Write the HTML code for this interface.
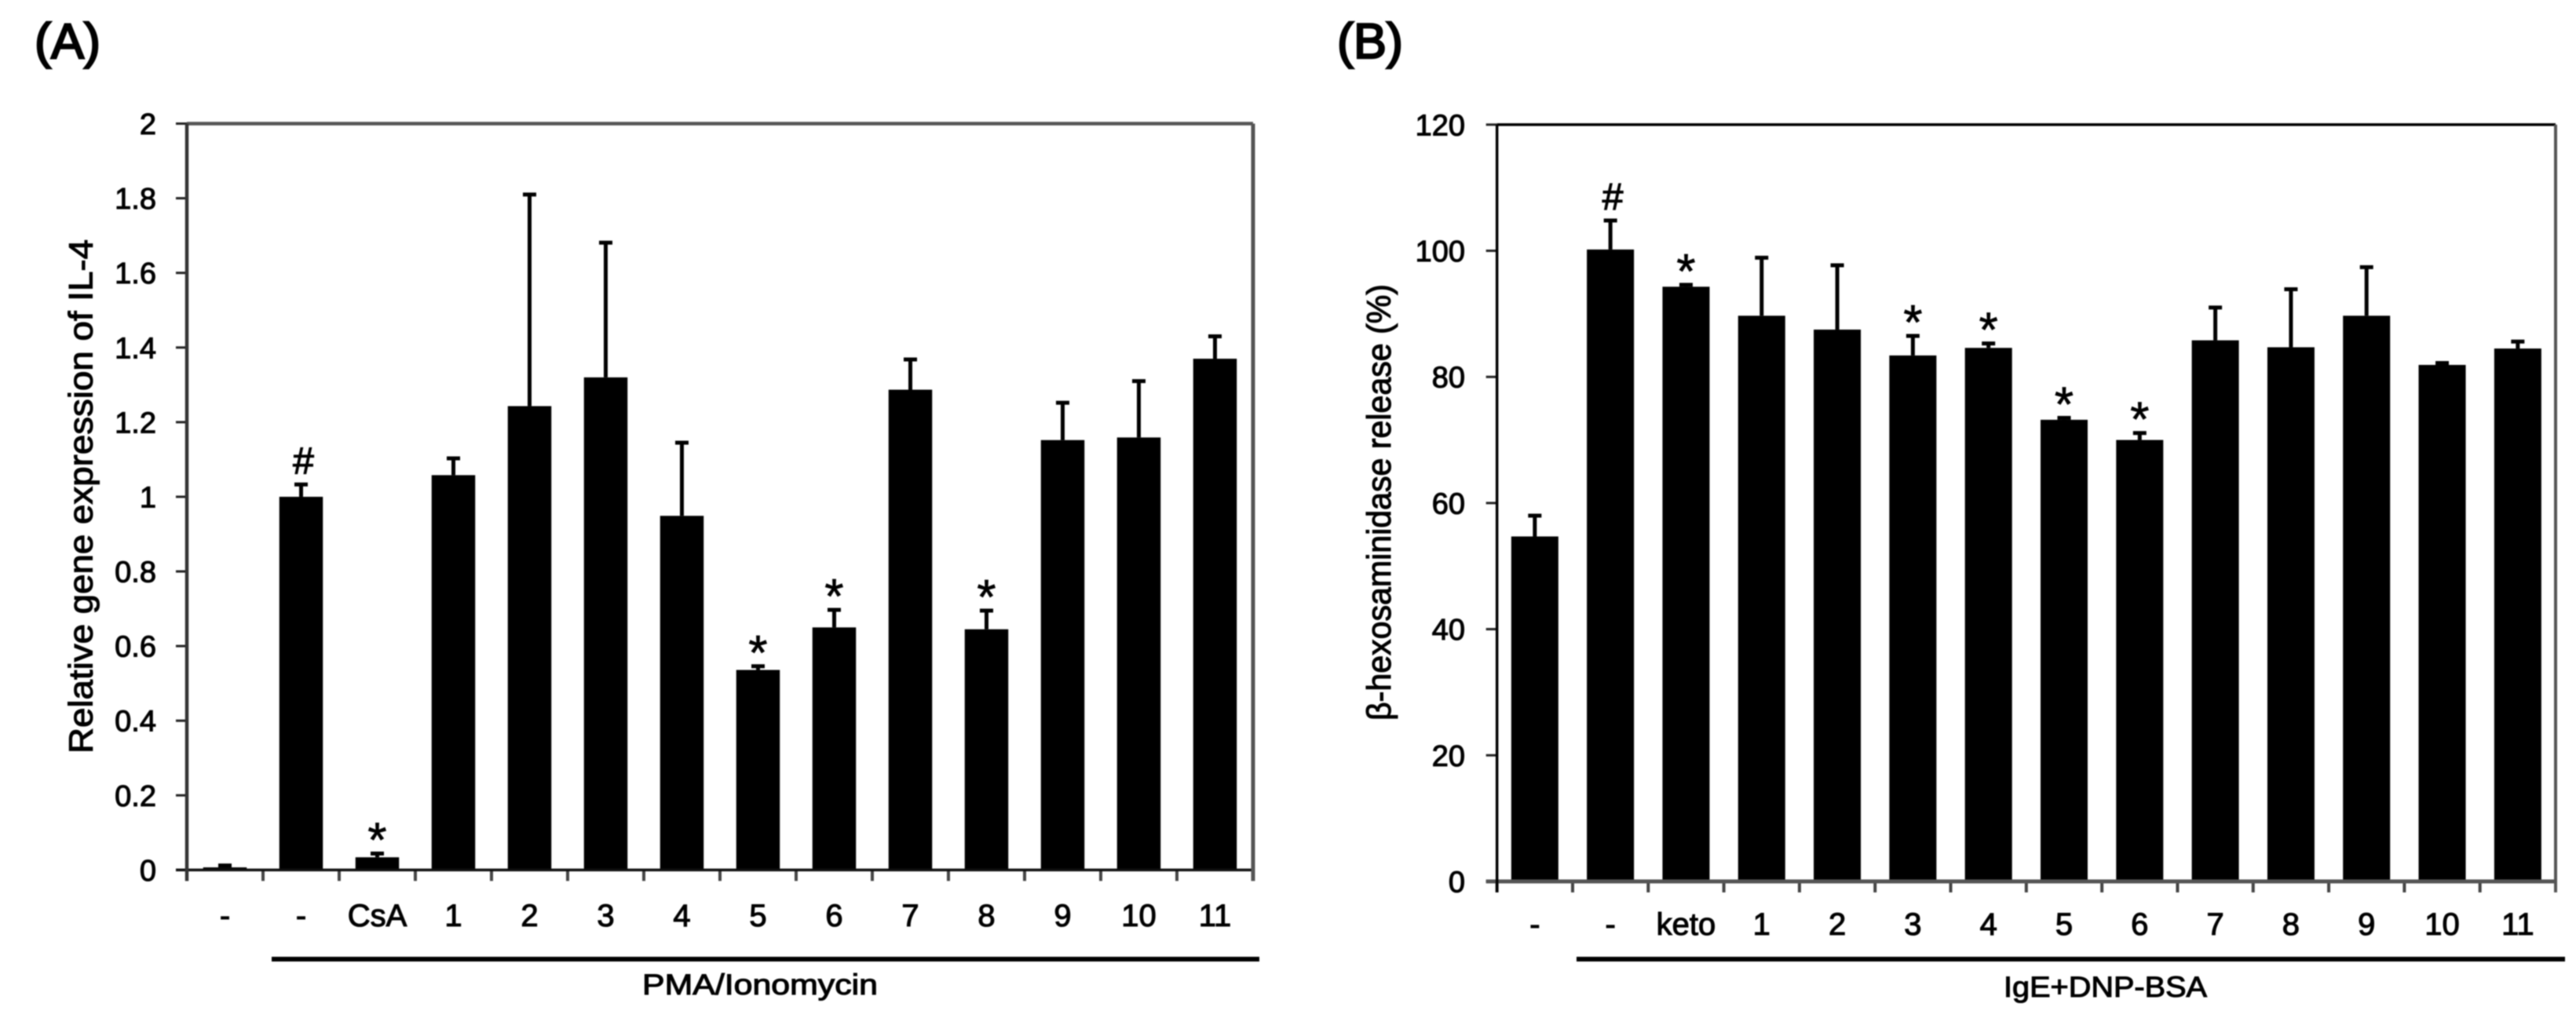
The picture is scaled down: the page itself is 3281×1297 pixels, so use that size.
<!DOCTYPE html>
<html lang="en">
<head>
<meta charset="utf-8">
<title>Panels A and B bar charts</title>
<style>
html,body{margin:0;padding:0;background:#fff;width:3281px;height:1297px;overflow:hidden}
svg{display:block;filter:blur(0.9px)}
text{font-family:"Liberation Sans","DejaVu Sans",sans-serif;fill:#000}
.heavy{stroke:#000;stroke-width:1.1px}
.panel{font-size:63px;stroke:#000;stroke-width:2.4px}
.title{font-size:43px}
.group{font-size:37px}
</style>
</head>
<body>
<svg id="figure" xmlns="http://www.w3.org/2000/svg" width="3281" height="1297" viewBox="0 0 3281 1297">
  <rect x="0" y="0" width="3281" height="1297" fill="#fff"/>

  <g id="chart-a"></g>
  <g id="chart-b"></g>

  <text class="panel" x="44" y="74">(A)</text>
  <text class="panel" x="1703" y="74">(B)</text>

  <text class="title heavy" transform="translate(117.5,960) rotate(-90)" textLength="655" lengthAdjust="spacingAndGlyphs">Relative gene expression of IL-4</text>
  <text class="title heavy" transform="translate(1771,918) rotate(-90)" textLength="556" lengthAdjust="spacingAndGlyphs">β-hexosaminidase release (%)</text>

  <rect x="346" y="1219" width="1258" height="6" fill="#000"/>
  <rect x="2008" y="1219" width="1259" height="6" fill="#000"/>
  <text class="group heavy" x="818" y="1267" textLength="300" lengthAdjust="spacingAndGlyphs">PMA/Ionomycin</text>
  <text class="group heavy" x="2552" y="1270" textLength="259" lengthAdjust="spacingAndGlyphs">IgE+DNP-BSA</text>
</svg>

<script>
// ---- Panel A data ----
const categoriesA = ['-', '-', 'CsA', '1', '2', '3', '4', '5', '6', '7', '8', '9', '10', '11'];
const valuesA = [0.007, 1.0, 0.034, 1.058, 1.243, 1.32, 0.949, 0.536, 0.65, 1.287, 0.645, 1.152, 1.159, 1.37];
const errorTopsA = [0.012, 1.033, 0.044, 1.103, 1.81, 1.681, 1.145, 0.546, 0.697, 1.368, 0.695, 1.252, 1.31, 1.43];
const marksA = ['', '#', '*', '', '', '', '', '*', '*', '', '*', '', '', ''];
const yTicksA = [0, 0.2, 0.4, 0.6, 0.8, 1, 1.2, 1.4, 1.6, 1.8, 2];

// ---- Panel B data ----
const categoriesB = ['-', '-', 'keto', '1', '2', '3', '4', '5', '6', '7', '8', '9', '10', '11'];
const valuesB = [54.7, 100.2, 94.3, 89.7, 87.5, 83.4, 84.6, 73.2, 70, 85.8, 84.7, 89.7, 81.9, 84.5];
const errorTopsB = [58, 104.8, 94.6, 98.9, 97.7, 86.5, 85.3, 73.5, 71.1, 91, 93.9, 97.4, 82.2, 85.6];
const marksB = ['', '#', '*', '', '', '*', '*', '*', '*', '', '', '', '', ''];
const yTicksB = [0, 20, 40, 60, 80, 100, 120];

const SVGNS = 'http://www.w3.org/2000/svg';

function make(tag, attrs, parent, txt) {
  const node = document.createElementNS(SVGNS, tag);
  for (const k in attrs) node.setAttribute(k, attrs[k]);
  if (txt !== undefined) node.textContent = txt;
  parent.appendChild(node);
  return node;
}

function drawPanel(cfg, categories, values, errorTops, marks, yTicks) {
  const root = document.getElementById(cfg.id);
  const n = categories.length;
  const step = (cfg.right - cfg.left) / n;
  const xAt = i => cfg.left + (i + 0.5) * step;
  const yAt = v => cfg.bottom - (v / cfg.yMax) * (cfg.bottom - cfg.top);

  // bars
  categories.forEach((cat, i) => {
    const bar = make('rect', {
      x: xAt(i) - cfg.barW / 2, y: yAt(values[i]),
      width: cfg.barW, height: cfg.bottom - yAt(values[i]), fill: '#000'
    }, root);
    
    

    const stem = make('rect', {
      x: xAt(i) - 2.5, y: yAt(errorTops[i]),
      width: 5, height: yAt(values[i]) - yAt(errorTops[i]), fill: '#000'
    }, root);
    
    

    const cap = make('rect', {
      x: xAt(i) - 8.5, y: yAt(errorTops[i]) - 2.5,
      width: 17, height: 5, fill: '#000'
    }, root);
    
    

    if (marks[i]) {
      const isHash = marks[i] === '#';
      const mark = make('text', {
        x: xAt(i) + (isHash ? 3 : 0),
        y: yAt(errorTops[i]) + (isHash ? -14 : 4),
        'text-anchor': 'middle',
        stroke: '#000',
        'stroke-width': isHash ? 1.2 : 0.8,
        style: isHash ? 'font-size:48px' : 'font-size:62px'
      }, root, marks[i]);
      
      
    }

    const label = make('text', {
      x: xAt(i), y: cfg.catBaseline, 'text-anchor': 'middle',
      class: 'heavy', style: 'font-size:' + cfg.catFont + 'px'
    }, root, cat);
    
    
  });

  // y ticks
  yTicks.forEach(t => {
    const tick = make('rect', {
      x: cfg.left - 14, y: yAt(t) - 1.5, width: 14, height: 3, fill: '#222'
    }, root);
    
    

    const label = make('text', {
      x: cfg.labelRight, y: yAt(t) + 13.5, 'text-anchor': 'end',
      class: 'heavy', style: 'font-size:38px'
    }, root, String(t));
    
    
  });

  // x ticks
  for (let i = 0; i <= n; i++) {
    const tick = make('rect', {
      x: cfg.left + i * step - 2, y: cfg.bottom,
      width: 4, height: 14, fill: '#444'
    }, root);
    
    
  }

  // frame
  const topAxis = make('rect', {
    x: cfg.left, y: cfg.top - cfg.topW / 2, width: cfg.right - cfg.left, height: cfg.topW, fill: cfg.topColor
  }, root);
  
  

  const bottomAxis = make('rect', {
    x: cfg.left - 14, y: cfg.bottom - cfg.bottomW / 2, width: cfg.right - cfg.left + 14, height: cfg.bottomW, fill: cfg.bottomColor
  }, root);
  
  

  const leftAxis = make('rect', {
    x: cfg.left - cfg.leftW / 2, y: cfg.top, width: cfg.leftW, height: cfg.bottom - cfg.top + 14, fill: cfg.leftColor
  }, root);
  
  

  const rightAxis = make('rect', {
    x: cfg.right - cfg.rightW / 2, y: cfg.top, width: cfg.rightW, height: cfg.bottom - cfg.top + 14, fill: cfg.rightColor
  }, root);
  
  
}

drawPanel({
  id: 'chart-a', left: 238, right: 1596, top: 157.5, bottom: 1108.4, yMax: 2,
  barW: 55.5, labelRight: 199, catBaseline: 1180, catFont: 40,
  topW: 4.5, topColor: '#555', bottomW: 3.5, bottomColor: '#111',
  leftW: 4.5, leftColor: '#333', rightW: 5, rightColor: '#555'
}, categoriesA, valuesA, errorTopsA, marksA, yTicksA);

drawPanel({
  id: 'chart-b', left: 1906.7, right: 3255, top: 158.8, bottom: 1123, yMax: 120,
  barW: 60, labelRight: 1866, catBaseline: 1191, catFont: 40,
  topW: 3.5, topColor: '#000', bottomW: 5, bottomColor: '#555',
  leftW: 3.5, leftColor: '#000', rightW: 4, rightColor: '#555'
}, categoriesB, valuesB, errorTopsB, marksB, yTicksB);
</script>
</body>
</html>
